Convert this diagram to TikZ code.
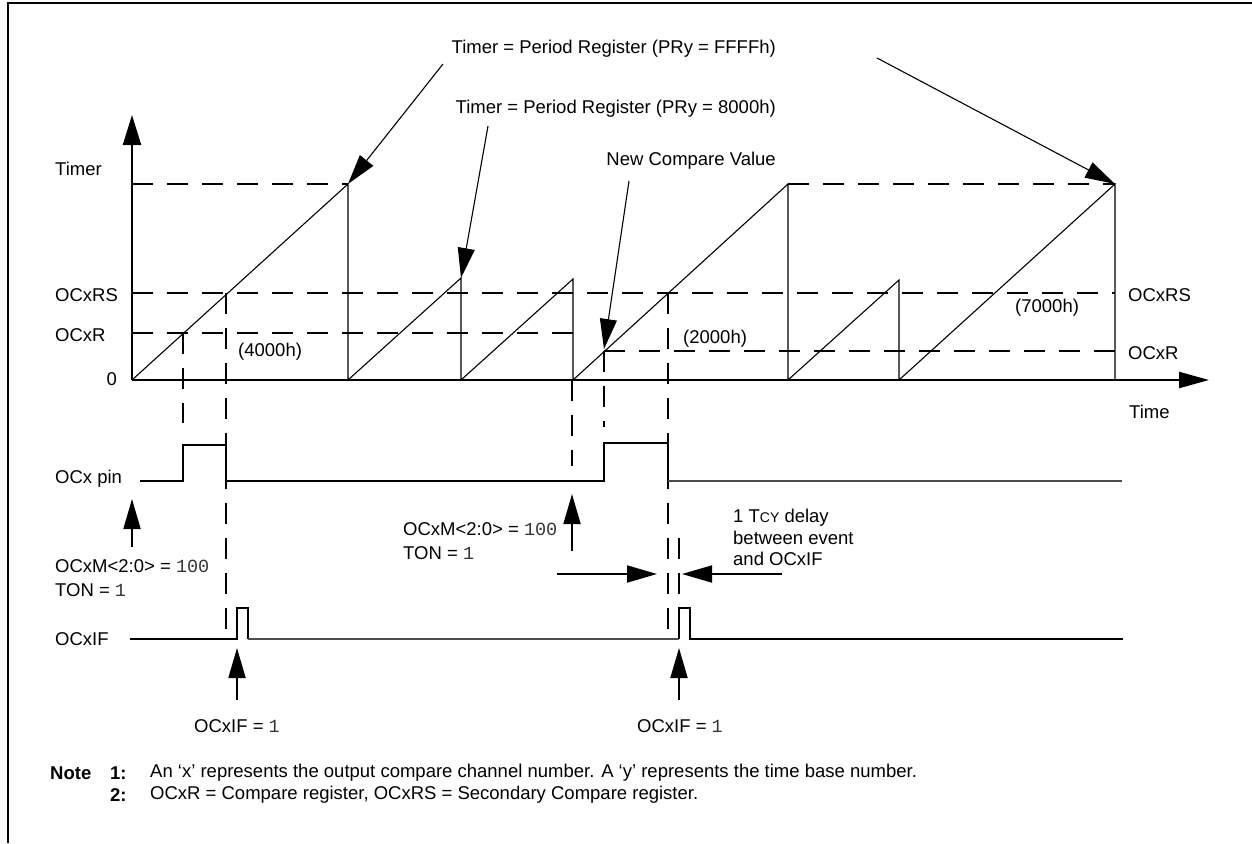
\documentclass[tikz,border=0pt]{standalone}
\usepackage{fontspec}
\setmainfont{Liberation Sans}
\newfontfamily\monof{Liberation Mono}
\usetikzlibrary{arrows.meta}
\newcommand{\mdig}[1]{{\monof\color{black!80}#1}}
\begin{document}
\begin{tikzpicture}[x=1pt,y=-1pt,
  lbl/.style={inner sep=0pt, font=\fontsize{18.5}{22}\selectfont},
  ax/.style={line width=2.3pt},
  ramp/.style={line width=1.1pt},
  dsh/.style={line width=2.6pt, dash pattern=on 21pt off 14pt},
  sig/.style={line width=2.3pt},
  thinsig/.style={line width=1.4pt, black!70},
  ptr/.style={line width=1.1pt, -{Triangle[length=30pt,width=17pt]}},
  arr/.style={line width=1.8pt, -{Triangle[length=30pt,width=17pt]}},
]
\useasboundingbox (0,0) rectangle (1252,843);
% frame
\coordinate (fbl) at (8,843); \coordinate (ftl) at (8,3); \coordinate (ftr) at (1252,3);
\draw[line width=2.8pt] (fbl) -- (ftl) -- (ftr);

% axes
\coordinate (O) at (132,380);
\coordinate (Ytip) at (132,115);
\coordinate (Xtip) at (1209,380);
\draw[ax, -{Triangle[length=30pt,width=18pt]}] (O) -- (Ytip);
\draw[ax, -{Triangle[length=30pt,width=16pt]}] (O) -- (Xtip);

% ramp peaks
\coordinate (p1) at (348,184); \coordinate (b1) at (348,380);
\coordinate (p2) at (461,278); \coordinate (b2) at (461,380);
\coordinate (p3) at (573,279); \coordinate (b3) at (573,380);
\coordinate (p4) at (788,184); \coordinate (b4) at (788,380);
\coordinate (p5) at (899,280); \coordinate (b5) at (899,380);
\coordinate (p6) at (1115,184); \coordinate (b6) at (1115,380);

% dashed horizontal levels
\draw[dsh] (132,184) -- (p1);
\draw[dsh] (p4) -- (p6);
\draw[dsh] (132,293) -- (1115,293);
\draw[dsh] (132,333) -- (573,333);
\draw[dsh] (604,351) -- (1115,351);

% ramps
\draw[ramp] (O) -- (p1) -- (b1) -- (p2) -- (b2) -- (p3) -- (b3) -- (p4) -- (b4) -- (p5) -- (b5) -- (p6) -- (b6);

% dashed verticals
\draw[dsh] (183,333) -- (183,423);
\draw[dsh] (226,293) -- (226,638);
\draw[dsh] (572,380) -- (572,466);
\draw[dsh] (604,351) -- (604,427);
\draw[dsh] (668,293) -- (668,638);
\draw[dsh] (679,538) -- (679,606);

% OCx pin
\draw[sig] (140,481) -- (183,481) -- (183,445) -- (226,445) -- (226,481) -- (604,481) -- (604,443) -- (668,443) -- (668,481);
\draw[thinsig] (668,481) -- (1122,481);

% OCxIF
\draw[sig] (130,639) -- (237,639) -- (237,608) -- (248,608) -- (248,639);
\draw[thinsig] (248,639) -- (679,639);
\draw[sig] (679,639) -- (679,608) -- (690,608) -- (690,639) -- (1123,639);

% event arrows
\coordinate (a1s) at (132,547); \coordinate (a1t) at (132,499);
\coordinate (a2s) at (572,551); \coordinate (a2t) at (572,494);
\coordinate (a3s) at (237,700); \coordinate (a3t) at (237,648);
\coordinate (a4s) at (679,700); \coordinate (a4t) at (679,648);
\coordinate (h1s) at (557,574); \coordinate (h1t) at (657,574);
\coordinate (h2s) at (782,574); \coordinate (h2t) at (682,574);
\draw[arr] (a1s) -- (a1t);
\draw[arr] (a2s) -- (a2t);
\draw[arr] (a3s) -- (a3t);
\draw[arr] (a4s) -- (a4t);
\draw[arr] (h1s) -- (h1t);
\draw[arr] (h2s) -- (h2t);

% labels at top
\node[lbl, anchor=east] (lF) at (776,49) {Timer = Period Register (PRy = FFFFh)};
\node[lbl, anchor=east] (l8) at (776,109) {Timer = Period Register (PRy = 8000h)};
\node[lbl, anchor=east] (lN) at (776,161) {New Compare Value};
\coordinate (lFa) at (443,64); \coordinate (lFb) at (877,58);
\coordinate (l8a) at (488,126);
\coordinate (lNa) at (629,181); \coordinate (nc) at (604,349);
\draw[ptr] (lFa) -- (p1);
\draw[ptr] (lFb) -- (p6);
\draw[ptr] (l8a) -- (p2);
\draw[ptr] (lNa) -- (nc);

% axis labels
\node[lbl, anchor=west] (tTimer) at (55,169) {Timer};
\node[lbl, anchor=west] (tRS) at (55,295) {OCxRS};
\node[lbl, anchor=west] (tR) at (55,335) {OCxR};
\node[lbl, anchor=east] (t0) at (117,379) {0};
\node[lbl, anchor=west] (t4) at (238,352) {(4000h)};
\node[lbl, anchor=west] (t2) at (683,339) {(2000h)};
\node[lbl, anchor=west] (t7) at (1015,308) {(7000h)};
\node[lbl, anchor=west] (rRS) at (1128,295) {OCxRS};
\node[lbl, anchor=west] (rR) at (1128,353) {OCxR};
\node[lbl, anchor=west] (tTime) at (1129,412) {Time};
\node[lbl, anchor=west] (tPin) at (55,479) {OCx pin};
\node[lbl, anchor=west] (tIF) at (55,639) {OCxIF};

% OCxM labels
\node[lbl, anchor=west] (m1) at (55,566) {OCxM<2:0> = \mdig{100}};
\node[lbl, anchor=west] (n1) at (55,590) {TON = \mdig{1}};
\node[lbl, anchor=west] (m2) at (403,529) {OCxM<2:0> = \mdig{100}};
\node[lbl, anchor=west] (n2) at (403,553) {TON = \mdig{1}};
\node[lbl, anchor=north west, align=left, font=\fontsize{18.5}{21.5}\selectfont] (dl) at (733,509) {1 T{\fontsize{14}{14}\selectfont CY} delay\\between event\\and OCxIF};

% OCxIF = 1 labels
\node[lbl] (f1) at (237,726) {OCxIF = \mdig{1}};
\node[lbl] (f2) at (680,726) {OCxIF = \mdig{1}};

% notes
\node[lbl, anchor=west, font=\bfseries\fontsize{18.5}{22}\selectfont] (nN) at (50,773) {Note};
\node[lbl, anchor=west, font=\bfseries\fontsize{18.5}{22}\selectfont] (n1n) at (110,773) {1:};
\node[lbl, anchor=west] (n1t) at (150,773) {An ‘x’ represents the output compare channel number. A ‘y’ represents the time base number.};
\node[lbl, anchor=west, font=\bfseries\fontsize{18.5}{22}\selectfont] (n2n) at (110,795) {2:};
\node[lbl, anchor=west] (n2t) at (150,795) {OCxR = Compare register, OCxRS = Secondary Compare register.};
\end{tikzpicture}
\end{document}
